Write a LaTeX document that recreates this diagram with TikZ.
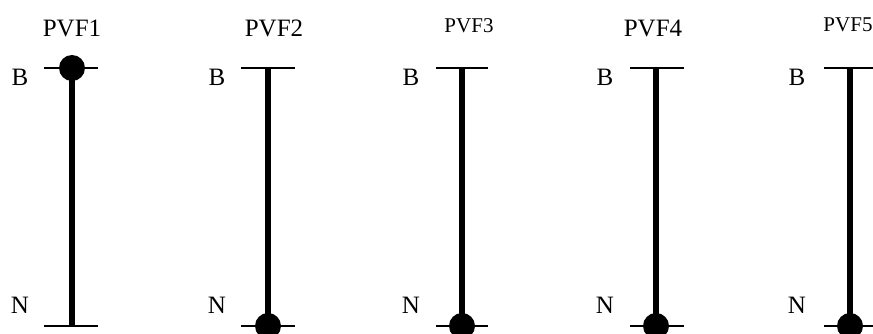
\documentclass[tikz,border=0pt]{standalone}
\usepackage{fontspec}
\setmainfont{Liberation Serif}

\tikzset{
	pole/.style={line width=5.5pt},
	tick/.style={line width=1.2pt},
	dot/.style={circle, fill=black, inner sep=0pt, minimum size=26pt},
	big/.style={font=\fontsize{25}{30}\selectfont},
	small/.style={font=\fontsize{21}{25}\selectfont}
}

\begin{document}
\begin{tikzpicture}[x=1pt,y=-1pt]
		\useasboundingbox (0,0) rectangle (873,334);

		% ends of the five poles
		\coordinate (t1) at (72,68);  \coordinate (b1) at (72,326);
		\coordinate (t2) at (268,68); \coordinate (b2) at (268,326);
		\coordinate (t3) at (462,68); \coordinate (b3) at (462,326);
		\coordinate (t4) at (656,68); \coordinate (b4) at (656,326);
		\coordinate (t5) at (850,68); \coordinate (b5) at (850,326);

		\node[big] (p1) at (72,28) {PVF1};
		\node[big] (p2) at (274,28) {PVF2};
		\node[small] (p3) at (469,26) {PVF3};
		\node[big] (p4) at (653,28) {PVF4};
		\node[small] (p5) at (848,25) {PVF5};

		\node[big] (B1) at (20,77) {B};  \node[big] (N1) at (20,305) {N};
		\node[big] (B2) at (217,77) {B}; \node[big] (N2) at (217,305) {N};
		\node[big] (B3) at (411,77) {B}; \node[big] (N3) at (411,305) {N};
		\node[big] (B4) at (605,77) {B}; \node[big] (N4) at (605,305) {N};
		\node[big] (B5) at (797,77) {B}; \node[big] (N5) at (797,305) {N};

		\draw[tick] ([xshift=-28]t1) -- ([xshift=26]t1);
		\draw[tick] ([xshift=-28]b1) -- ([xshift=26]b1);
		\draw[tick] ([xshift=-27]t2) -- ([xshift=27]t2);
		\draw[tick] ([xshift=-27]b2) -- ([xshift=27]b2);
		\draw[tick] ([xshift=-26]t3) -- ([xshift=26]t3);
		\draw[tick] ([xshift=-26]b3) -- ([xshift=26]b3);
		\draw[tick] ([xshift=-26]t4) -- ([xshift=28]t4);
		\draw[tick] ([xshift=-26]b4) -- ([xshift=28]b4);
		\draw[tick] ([xshift=-26]t5) -- ([xshift=26]t5);
		\draw[tick] ([xshift=-26]b5) -- ([xshift=26]b5);

		\draw[pole] (t1) -- (b1);
		\draw[pole] (t2) -- (b2);
		\draw[pole] (t3) -- (b3);
		\draw[pole] (t4) -- (b4);
		\draw[pole] (t5) -- (b5);

		\node[dot] (d1) at (t1) {};
		\node[dot] (d2) at (b2) {};
		\node[dot] (d3) at (b3) {};
		\node[dot] (d4) at (b4) {};
		\node[dot] (d5) at (b5) {};
	\end{tikzpicture}
\end{document}
